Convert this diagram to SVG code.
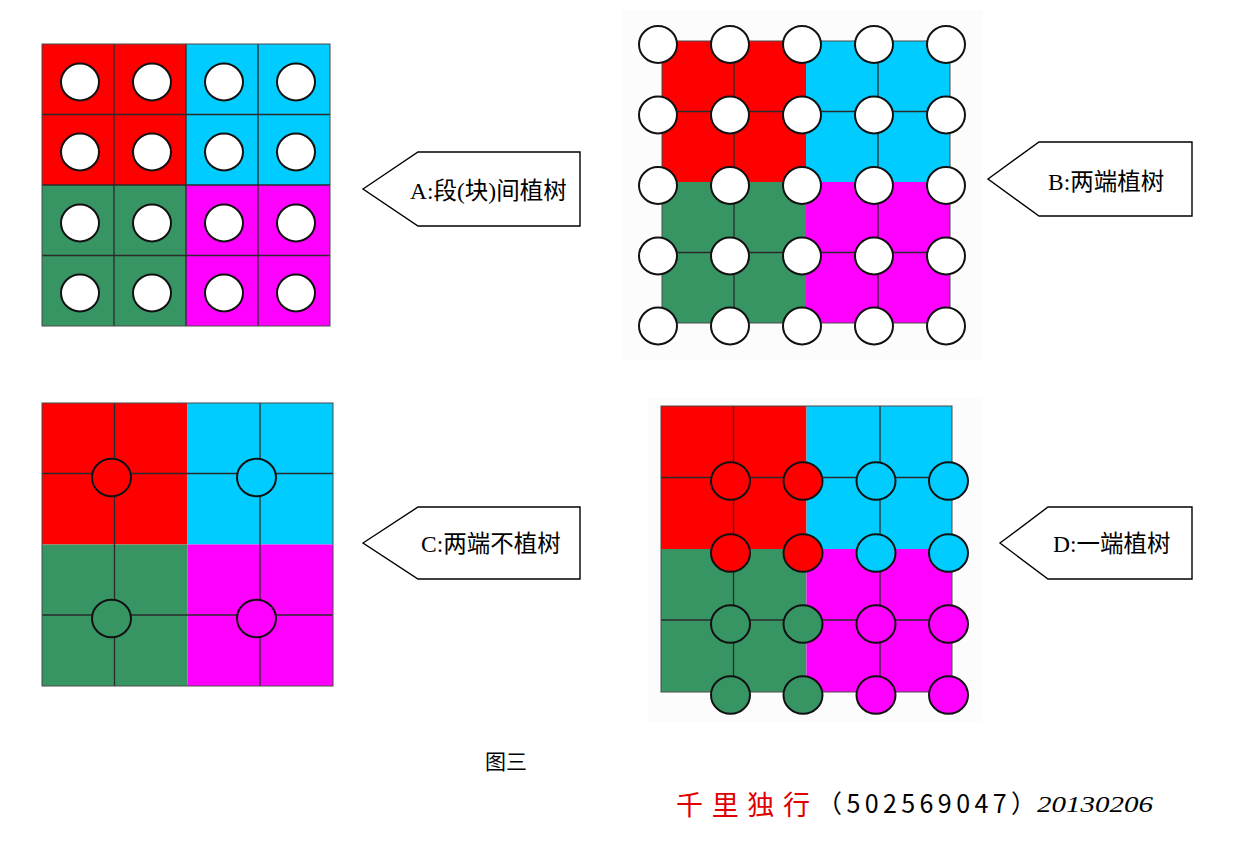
<svg xmlns="http://www.w3.org/2000/svg" width="1241" height="847" viewBox="0 0 1241 847">
<style>
.r{fill:#ff0000}.c{fill:#00ccff}.g{fill:#379563}.m{fill:#ff00ff}
.ln{stroke:#2b2b2b;stroke-width:1.3;fill:none}
.bd{fill:none;stroke:#4a4a4a;stroke-width:1}
.w{fill:#ffffff;stroke:#111;stroke-width:2}
.o{stroke:#111;stroke-width:2}
.co{fill:#ffffff;stroke:#000;stroke-width:1.4}
.lab{font-family:"Liberation Serif","Noto Sans CJK SC",serif;font-size:23.5px;fill:#000}
</style>
<rect width="1241" height="847" fill="#ffffff"/>

<g id="panelA">
<rect class="r" x="42" y="44" width="144" height="141"/>
<rect class="c" x="186" y="44" width="144" height="141"/>
<rect class="g" x="42" y="185" width="144" height="141"/>
<rect class="m" x="186" y="185" width="144" height="141"/>
<path class="ln" d="M114 44V326M186 44V326M258 44V326M42 114.5H330M42 185H330M42 255.5H330"/>
<rect class="bd" x="42" y="44" width="288" height="282"/>
<g class="w">
<ellipse cx="80" cy="82" rx="19" ry="18.5"/><ellipse cx="152" cy="82" rx="19" ry="18.5"/><ellipse cx="224" cy="82" rx="19" ry="18.5"/><ellipse cx="296" cy="82" rx="19" ry="18.5"/>
<ellipse cx="80" cy="152" rx="19" ry="18.5"/><ellipse cx="152" cy="152" rx="19" ry="18.5"/><ellipse cx="224" cy="152" rx="19" ry="18.5"/><ellipse cx="296" cy="152" rx="19" ry="18.5"/>
<ellipse cx="80" cy="223" rx="19" ry="18.5"/><ellipse cx="152" cy="223" rx="19" ry="18.5"/><ellipse cx="224" cy="223" rx="19" ry="18.5"/><ellipse cx="296" cy="223" rx="19" ry="18.5"/>
<ellipse cx="80" cy="293" rx="19" ry="18.5"/><ellipse cx="152" cy="293" rx="19" ry="18.5"/><ellipse cx="224" cy="293" rx="19" ry="18.5"/><ellipse cx="296" cy="293" rx="19" ry="18.5"/>
</g>
</g>

<g id="panelB">
<rect x="622" y="10" width="361" height="350" fill="#fcfcfc"/>
<rect class="r" x="662" y="41" width="144" height="141"/>
<rect class="c" x="806" y="41" width="144" height="141"/>
<rect class="g" x="662" y="182" width="144" height="141"/>
<rect class="m" x="806" y="182" width="144" height="141"/>
<path class="ln" d="M734 41V323M878 41V323M662 111.5H950M662 252.5H950"/>
<rect class="bd" x="662" y="41" width="288" height="282"/>
<g class="w">
<ellipse cx="658" cy="44.5" rx="19" ry="18.5"/><ellipse cx="730" cy="44.5" rx="19" ry="18.5"/><ellipse cx="802" cy="44.5" rx="19" ry="18.5"/><ellipse cx="874" cy="44.5" rx="19" ry="18.5"/><ellipse cx="946" cy="44.5" rx="19" ry="18.5"/>
<ellipse cx="658" cy="115" rx="19" ry="18.5"/><ellipse cx="730" cy="115" rx="19" ry="18.5"/><ellipse cx="802" cy="115" rx="19" ry="18.5"/><ellipse cx="874" cy="115" rx="19" ry="18.5"/><ellipse cx="946" cy="115" rx="19" ry="18.5"/>
<ellipse cx="658" cy="185.5" rx="19" ry="18.5"/><ellipse cx="730" cy="185.5" rx="19" ry="18.5"/><ellipse cx="802" cy="185.5" rx="19" ry="18.5"/><ellipse cx="874" cy="185.5" rx="19" ry="18.5"/><ellipse cx="946" cy="185.5" rx="19" ry="18.5"/>
<ellipse cx="658" cy="256" rx="19" ry="18.5"/><ellipse cx="730" cy="256" rx="19" ry="18.5"/><ellipse cx="802" cy="256" rx="19" ry="18.5"/><ellipse cx="874" cy="256" rx="19" ry="18.5"/><ellipse cx="946" cy="256" rx="19" ry="18.5"/>
<ellipse cx="658" cy="326" rx="19" ry="18.5"/><ellipse cx="730" cy="326" rx="19" ry="18.5"/><ellipse cx="802" cy="326" rx="19" ry="18.5"/><ellipse cx="874" cy="326" rx="19" ry="18.5"/><ellipse cx="946" cy="326" rx="19" ry="18.5"/>
</g>
</g>

<g id="panelC">
<rect class="r" x="42" y="403" width="145.5" height="141.5"/>
<rect class="c" x="187.5" y="403" width="145.5" height="141.5"/>
<rect class="g" x="42" y="544.5" width="145.5" height="141.5"/>
<rect class="m" x="187.5" y="544.5" width="145.5" height="141.5"/>
<path class="ln" d="M114.5 403V686M260 403V686M42 473.5H333M42 615H333"/>
<rect class="bd" x="42" y="403" width="291" height="283"/>
<ellipse class="r o" cx="111.5" cy="477.5" rx="19.5" ry="18.8"/>
<ellipse class="c o" cx="256.5" cy="477.5" rx="19.5" ry="18.8"/>
<ellipse class="g o" cx="111.5" cy="618.5" rx="19.5" ry="18.8"/>
<ellipse class="m o" cx="256.5" cy="618.5" rx="19.5" ry="18.8"/>
</g>

<g id="panelD">
<rect x="648" y="398" width="334" height="324" fill="#fcfcfc"/>
<rect class="r" x="661" y="406" width="145.5" height="143"/>
<rect class="c" x="806.5" y="406" width="145.5" height="143"/>
<rect class="g" x="661" y="549" width="145.5" height="143"/>
<rect class="m" x="806.5" y="549" width="145.5" height="143"/>
<path class="ln" d="M733.5 406V692M880 406V692M661 477.5H952M661 620H952"/>
<rect class="bd" x="661" y="406" width="291" height="286"/>
<g class="o">
<ellipse class="r" cx="730.5" cy="481" rx="19.5" ry="18.8"/><ellipse class="r" cx="803" cy="481" rx="19.5" ry="18.8"/>
<ellipse class="c" cx="876" cy="481" rx="19.5" ry="18.8"/><ellipse class="c" cx="948.5" cy="481" rx="19.5" ry="18.8"/>
<ellipse class="r" cx="730.5" cy="553" rx="19.5" ry="18.8"/><ellipse class="r" cx="803" cy="553" rx="19.5" ry="18.8"/>
<ellipse class="c" cx="876" cy="553" rx="19.5" ry="18.8"/><ellipse class="c" cx="948.5" cy="553" rx="19.5" ry="18.8"/>
<ellipse class="g" cx="730.5" cy="624" rx="19.5" ry="18.8"/><ellipse class="g" cx="803" cy="624" rx="19.5" ry="18.8"/>
<ellipse class="m" cx="876" cy="624" rx="19.5" ry="18.8"/><ellipse class="m" cx="948.5" cy="624" rx="19.5" ry="18.8"/>
<ellipse class="g" cx="730.5" cy="695" rx="19.5" ry="18.8"/><ellipse class="g" cx="803" cy="695" rx="19.5" ry="18.8"/>
<ellipse class="m" cx="876" cy="695" rx="19.5" ry="18.8"/><ellipse class="m" cx="948.5" cy="695" rx="19.5" ry="18.8"/>
</g>
</g>

<g id="calloutA">
<polygon class="co" points="363,189 418,152 580,152 580,226 418,226"/>
<text class="lab" x="410" y="199">A:段(块)间植树</text>
</g>
<g id="calloutB">
<polygon class="co" points="988,179 1039,142 1192,142 1192,216 1039,216"/>
<text class="lab" x="1048" y="190">B:两端植树</text>
</g>
<g id="calloutC">
<polygon class="co" points="363,543 418,507 580,507 580,579 418,579"/>
<text class="lab" x="421" y="552">C:两端不植树</text>
</g>
<g id="calloutD">
<polygon class="co" points="1000,543 1048,507 1192,507 1192,579 1048,579"/>
<text class="lab" x="1053" y="552">D:一端植树</text>
</g>

<g id="captions">
<text x="485" y="769" style="font-family:'Liberation Serif','Noto Sans CJK SC',serif;font-size:21px;fill:#000">图三</text>
<text x="676" y="815" textLength="134" lengthAdjust="spacing" style="font-family:'Noto Sans CJK SC',sans-serif;font-size:27px;fill:#e00000">千里独行</text>
<text x="817" y="813" textLength="219" lengthAdjust="spacing" style="font-family:'Noto Sans CJK SC',sans-serif;font-size:25px;fill:#000">（502569047）</text>
<text x="1037" y="812" textLength="116" lengthAdjust="spacingAndGlyphs" style="font-family:'Liberation Serif',serif;font-style:italic;font-size:24px;fill:#000">20130206</text>
</g>
</svg>
